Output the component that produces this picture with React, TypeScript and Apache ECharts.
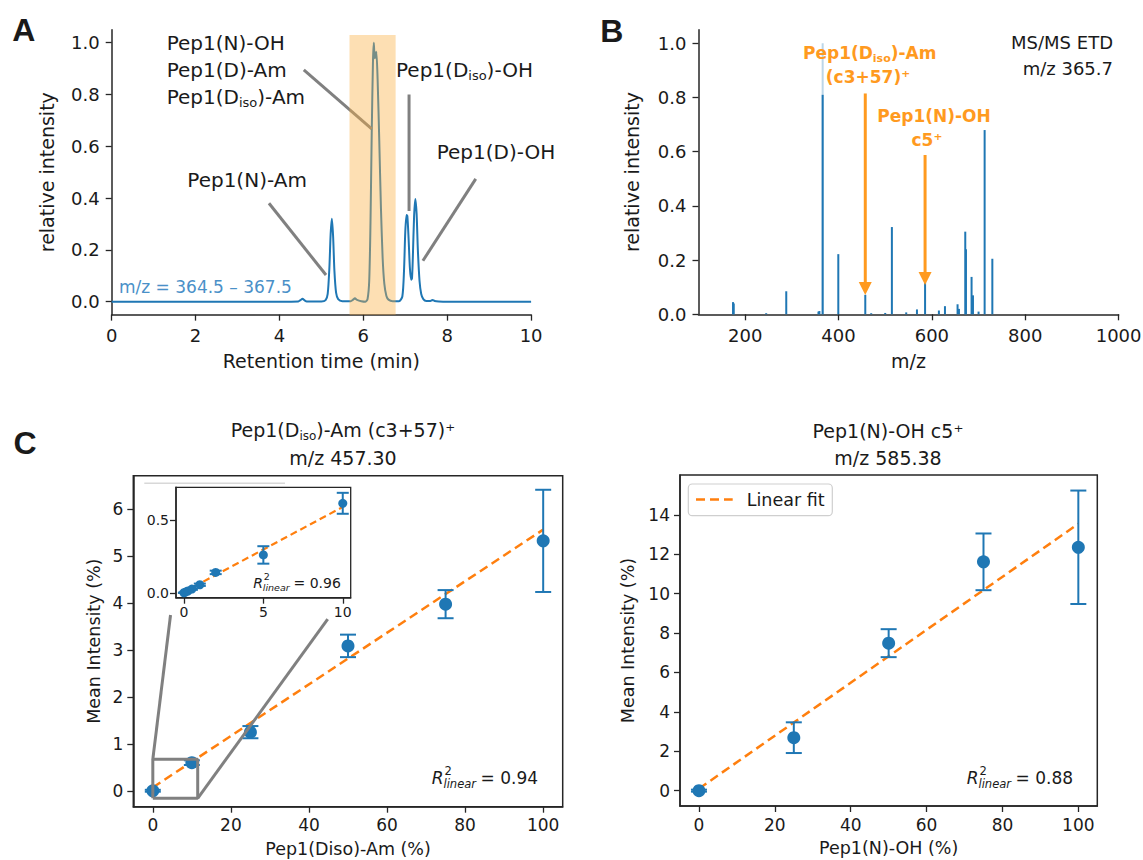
import React, { useEffect, useRef } from "react";
import * as echarts from "echarts";

// ---------------- Panel A : chromatogram ----------------
const chromTime = [0, 1, 2, 3, 4, 4.45, 4.5, 4.55, 4.6, 4.65, 5.0, 5.1, 5.15, 5.19, 5.22, 5.25, 5.28, 5.31, 5.35, 5.4, 5.5, 5.7, 5.75, 5.8, 5.85, 5.95, 6.05, 6.1, 6.14, 6.17, 6.2, 6.23, 6.25, 6.27, 6.29, 6.31, 6.34, 6.38, 6.42, 6.46, 6.5, 6.55, 6.6, 6.7, 6.85, 6.93, 6.97, 7.0, 7.03, 7.05, 7.08, 7.11, 7.14, 7.16, 7.18, 7.21, 7.24, 7.27, 7.3, 7.34, 7.38, 7.43, 7.5, 7.6, 7.65, 7.7, 7.8, 8, 9, 10];
const chromIntensity = [0, 0, 0, 0, 0, 0.001, 0.006, 0.011, 0.005, 0.001, 0.001, 0.006, 0.03, 0.13, 0.26, 0.32, 0.25, 0.12, 0.035, 0.01, 0.002, 0.002, 0.007, 0.013, 0.007, 0.002, 0, 0.01, 0.08, 0.3, 0.65, 0.93, 1.0, 0.94, 0.95, 0.965, 0.86, 0.62, 0.36, 0.17, 0.07, 0.022, 0.008, 0.002, 0.002, 0.02, 0.12, 0.27, 0.335, 0.33, 0.24, 0.13, 0.085, 0.09, 0.17, 0.33, 0.397, 0.34, 0.2, 0.08, 0.03, 0.01, 0.003, 0.003, 0.007, 0.003, 0.001, 0, 0, 0];
const bandStart = [5.67];
const bandEnd = [6.77];
const bandTop = [1.03];
const aXTicks = [0, 2, 4, 6, 8, 10];
const aYTicks = [0, 0.2, 0.4, 0.6, 0.8, 1.0];
// callout segments (data coords of panel A)
const calloutX1 = [4.58, 7.09, 3.75, 8.68];
const calloutY1 = [0.895, 0.80, 0.38, 0.474];
const calloutX2 = [6.2, 7.09, 5.11, 7.42];
const calloutY2 = [0.667, 0.35, 0.103, 0.158];

// ---------------- Panel B : MS/MS spectrum ----------------
const spectrumMz = [174, 175.5, 245, 288, 357, 359, 366, 399.5, 457.3, 470, 500, 514.3, 545, 568, 585.4, 615, 628, 655, 658, 671.5, 673, 685, 688, 700, 713, 729.5];
const spectrumIntensity = [0.045, 0.04, 0.004, 0.085, 0.01, 0.012, 0.81, 0.222, 0.072, 0.004, 0.005, 0.322, 0.007, 0.018, 0.12, 0.014, 0.03, 0.037, 0.02, 0.305, 0.24, 0.138, 0.07, 0.01, 0.68, 0.205];
const precursorMz = [366];
const precursorIntensity = [1.0];
const arrowMz = [457.3, 585.4];
const arrowFrom = [0.815, 0.588];
const arrowTo = [0.071, 0.108];
const bXTicks = [200, 400, 600, 800, 1000];
const bYTicks = [0, 0.2, 0.4, 0.6, 0.8, 1.0];

// ---------------- Panel C left ----------------
const leftConc = [0, 10, 25, 50, 75, 100];
const leftMean = [0, 0.6, 1.25, 3.09, 3.98, 5.33];
const leftErr = [0.02, 0.05, 0.13, 0.24, 0.3, 1.09];
const leftFitX = [0, 100];
const leftFitY = [0.07, 5.57];
const leftXTicks = [0, 20, 40, 60, 80, 100];
const leftYTicks = [0, 1, 2, 3, 4, 5, 6];
const insetConc = [0, 0.1, 0.25, 0.5, 1, 2, 5, 10];
const insetMean = [0, 0.005, 0.012, 0.025, 0.055, 0.14, 0.26, 0.615];
const insetErr = [0, 0.002, 0.003, 0.005, 0.008, 0.012, 0.06, 0.072];
const insetFitX = [0, 10];
const insetFitY = [0.005, 0.59];
const insetXTicks = [0, 5, 10];
const insetYTicks = [0, 0.5];
const zoomBoxX = [0, 11.5];
const zoomBoxY = [-0.16, 0.67];
const connectorFromX = [0, 11.5];
const connectorFromY = [0.67, -0.16];
const connectorToX = [4.54, 44.8];
const connectorToY = [3.75, 3.66];

// ---------------- Panel C right ----------------
const rightConc = [0, 25, 50, 75, 100];
const rightMean = [0, 2.69, 7.49, 11.62, 12.36];
const rightErr = [0.05, 0.78, 0.71, 1.44, 2.88];
const rightFitX = [0, 100];
const rightFitY = [0.1, 13.55];
const rightXTicks = [0, 20, 40, 60, 80, 100];
const rightYTicks = [0, 2, 4, 6, 8, 10, 12, 14];

const BLUE = "#1f77b4";
const FIT = "#ff7f0e";
const ORANGE = "#ff9a1f";
const GRAY = "#808080";
const AX = "#262626";
const TXT = "#1a1a1a";
const FONT = "DejaVu Sans";

function zip(a: number[], b: number[]) {
  return a.map((v, i) => [v, b[i]]);
}
function zip3(a: number[], b: number[], c: number[]) {
  return a.map((v, i) => [v, b[i], c[i]]);
}

function axis(
  gridIndex: number,
  min: number,
  max: number,
  ticks: number[],
  fmt: (v: number) => string,
  fs: number,
  margin: number,
  name: string,
  nameGap: number,
  nameFs: number
) {
  return {
    type: "value",
    gridIndex,
    min,
    max,
    name,
    nameLocation: "middle",
    nameGap,
    nameTextStyle: { fontSize: nameFs, fontFamily: FONT, color: TXT },
    axisLine: { show: true, onZero: false, lineStyle: { color: AX, width: 1.5 } },
    axisTick: { show: true, inside: false, length: 6, customValues: ticks, lineStyle: { color: AX, width: 1.3 } },
    axisLabel: { show: true, customValues: ticks, formatter: fmt, fontSize: fs, fontFamily: FONT, color: TXT, margin },
    splitLine: { show: false },
  };
}

const f0 = (v: number) => String(Math.round(v));
const f1 = (v: number) => v.toFixed(1);

function errorBarRender(cap: number) {
  return (params: any, api: any) => {
    const x = api.value(0);
    const y = api.value(1);
    const e = api.value(2);
    const lo = api.coord([x, y - e]);
    const hi = api.coord([x, y + e]);
    const st = { stroke: BLUE, lineWidth: 2 };
    return {
      type: "group",
      children: [
        { type: "line", shape: { x1: lo[0], y1: lo[1], x2: hi[0], y2: hi[1] }, style: st },
        { type: "line", shape: { x1: lo[0] - cap, y1: lo[1], x2: lo[0] + cap, y2: lo[1] }, style: st },
        { type: "line", shape: { x1: hi[0] - cap, y1: hi[1], x2: hi[0] + cap, y2: hi[1] }, style: st },
      ],
    };
  };
}

function txt(text: string, x: number, y: number, fs: number, opts: any = {}) {
  const align = opts.align || "left";
  return {
    type: "text",
    z: 20,
    style: {
      text,
      x,
      y,
      fontSize: fs,
      fontFamily: opts.family || FONT,
      fontWeight: opts.weight || "normal",
      fontStyle: opts.style || "normal",
      fill: opts.color || TXT,
      align,
      verticalAlign: "middle",
      textAlign: align,
      textVerticalAlign: "middle",
      rich: opts.rich,
    },
  };
}

function richSub(fs: number, color: string, weight: string) {
  return {
    n: { fontSize: fs, fontFamily: FONT, fontWeight: weight, fill: color, color, lineHeight: fs + 4 },
    s: { fontSize: Math.round(fs * 0.65), fontFamily: FONT, fontWeight: weight, fill: color, color, lineHeight: Math.round(fs * 0.55), verticalAlign: "bottom" },
  };
}

function rSquared(x: number, y: number, val: string, fs: number) {
  const rW = 0.75 * fs;
  const small = 0.68 * fs;
  return {
    type: "group",
    z: 20,
    children: [
      txt("R", x, y, fs, { style: "italic" }),
      txt("2", x + rW, y - 0.42 * fs, small),
      txt("linear", x + rW - 1, y + 0.32 * fs, small, { style: "italic" }),
      txt("= " + val, x + rW + 2.83 * small + 0.2 * fs, y, fs),
    ],
  };
}

function buildOption() {
  const grid = [
    { left: 111.7, top: 29.75, width: 419.4, height: 284.9, outerBoundsMode: "none" },
    { left: 698.5, top: 29.8, width: 420.1, height: 284.5, outerBoundsMode: "none" },
    { left: 133.3, top: 475.7, width: 429.4, height: 331, show: true, borderColor: AX, borderWidth: 1.5, outerBoundsMode: "none" },
    { left: 176, top: 487.3, width: 174.7, height: 110.4, show: true, borderColor: AX, borderWidth: 1.3, backgroundColor: "#fff", z: 5, outerBoundsMode: "none" },
    { left: 680, top: 475, width: 417.3, height: 331, show: true, borderColor: AX, borderWidth: 1.5, outerBoundsMode: "none" },
  ];

  const xAxis = [
    axis(0, 0, 10, aXTicks, f0, 18, 12, "Retention time (min)", 37, 19),
    axis(1, 100, 1000, bXTicks, f0, 18, 12, "m/z", 37, 19),
    axis(2, -5, 105, leftXTicks, f0, 17, 10, "Pep1(Diso)-Am (%)", 33, 17.5),
    { ...axis(3, -0.5, 10.5, insetXTicks, f0, 14, 7, "", 0, 14), z: 6 },
    axis(4, -5, 105, rightXTicks, f0, 17, 10, "Pep1(N)-OH (%)", 33, 17.5),
  ];
  const yAxis = [
    axis(0, -0.05, 1.05, aYTicks, f1, 18, 12, "relative intensity", 55, 19),
    axis(1, 0, 1.05, bYTicks, f1, 18, 12, "relative intensity", 57, 19),
    axis(2, -0.34, 6.72, leftYTicks, f0, 17, 10, "Mean Intensity (%)", 30, 17.5),
    { ...axis(3, -0.034, 0.725, insetYTicks, f1, 14, 7, "", 0, 14), z: 6 },
    axis(4, -0.78, 16.03, rightYTicks, f0, 17, 10, "Mean Intensity (%)", 43, 17.5),
  ];

  const series: any[] = [];

  // ---- A ----
  series.push({
    type: "line",
    xAxisIndex: 0,
    yAxisIndex: 0,
    data: zip(chromTime, chromIntensity),
    showSymbol: false,
    symbol: "none",
    smooth: 0.25,
    lineStyle: { color: BLUE, width: 2 },
    z: 2,
    silent: true,
  });
  calloutX1.forEach((x1, i) => {
    series.push({
      type: "line",
      xAxisIndex: 0,
      yAxisIndex: 0,
      data: [
        [x1, calloutY1[i]],
        [calloutX2[i], calloutY2[i]],
      ],
      symbol: "none",
      lineStyle: { color: GRAY, width: 3 },
      z: 2,
      silent: true,
    });
  });
  series.push({
    type: "custom",
    xAxisIndex: 0,
    yAxisIndex: 0,
    z: 3,
    silent: true,
    data: zip3(bandStart, bandEnd, bandTop),
    renderItem: (params: any, api: any) => {
      const p0 = api.coord([api.value(0), api.value(2)]);
      const p1 = api.coord([api.value(1), -0.05]);
      return {
        type: "rect",
        shape: { x: p0[0], y: p0[1], width: p1[0] - p0[0], height: p1[1] - p0[1] },
        style: { fill: "rgba(251,176,64,0.4)" },
      };
    },
  });

  // ---- B ----
  const stickRender = (color: string) => (params: any, api: any) => {
    const a = api.coord([api.value(0), 0]);
    const b = api.coord([api.value(0), api.value(1)]);
    return { type: "line", shape: { x1: a[0], y1: a[1], x2: b[0], y2: b[1] }, style: { stroke: color, lineWidth: 2 } };
  };
  series.push({
    type: "custom",
    xAxisIndex: 1,
    yAxisIndex: 1,
    z: 2,
    silent: true,
    data: zip(precursorMz, precursorIntensity),
    renderItem: stickRender("rgba(31,119,180,0.3)"),
  });
  series.push({
    type: "custom",
    xAxisIndex: 1,
    yAxisIndex: 1,
    z: 3,
    silent: true,
    data: zip(spectrumMz, spectrumIntensity),
    renderItem: stickRender(BLUE),
  });
  series.push({
    type: "custom",
    xAxisIndex: 1,
    yAxisIndex: 1,
    z: 4,
    silent: true,
    data: zip3(arrowMz, arrowFrom, arrowTo),
    renderItem: (params: any, api: any) => {
      const t = api.coord([api.value(0), api.value(1)]);
      const b = api.coord([api.value(0), api.value(2)]);
      const hl = 13;
      const hw = 6.5;
      return {
        type: "group",
        children: [
          { type: "line", shape: { x1: t[0], y1: t[1], x2: b[0], y2: b[1] - hl + 1 }, style: { stroke: ORANGE, lineWidth: 3 } },
          {
            type: "polygon",
            shape: { points: [[b[0] - hw, b[1] - hl], [b[0] + hw, b[1] - hl], [b[0], b[1]]] },
            style: { fill: ORANGE },
          },
        ],
      };
    },
  });

  // ---- C left ----
  series.push({
    type: "line",
    xAxisIndex: 2,
    yAxisIndex: 2,
    data: zip(leftFitX, leftFitY),
    symbol: "none",
    lineStyle: { color: FIT, width: 2.5, type: [9, 5] },
    z: 2,
    silent: true,
  });
  series.push({
    type: "custom",
    xAxisIndex: 2,
    yAxisIndex: 2,
    z: 3,
    silent: true,
    data: zip3(leftConc, leftMean, leftErr),
    renderItem: errorBarRender(8),
  });
  series.push({
    type: "scatter",
    xAxisIndex: 2,
    yAxisIndex: 2,
    z: 4,
    silent: true,
    symbolSize: 13,
    itemStyle: { color: BLUE, opacity: 1 },
    data: zip(leftConc, leftMean),
  });
  series.push({
    type: "line",
    xAxisIndex: 2,
    yAxisIndex: 2,
    z: 5,
    silent: true,
    symbol: "none",
    lineStyle: { color: GRAY, width: 3 },
    data: [
      [zoomBoxX[0], zoomBoxY[0]],
      [zoomBoxX[1], zoomBoxY[0]],
      [zoomBoxX[1], zoomBoxY[1]],
      [zoomBoxX[0], zoomBoxY[1]],
      [zoomBoxX[0], zoomBoxY[0]],
    ],
  });
  connectorFromX.forEach((x, i) => {
    series.push({
      type: "line",
      xAxisIndex: 2,
      yAxisIndex: 2,
      z: 5,
      silent: true,
      symbol: "none",
      lineStyle: { color: GRAY, width: 3 },
      data: [
        [x, connectorFromY[i]],
        [connectorToX[i], connectorToY[i]],
      ],
    });
  });

  // ---- inset ----
  series.push({
    type: "line",
    xAxisIndex: 3,
    yAxisIndex: 3,
    data: zip(insetFitX, insetFitY),
    symbol: "none",
    lineStyle: { color: FIT, width: 2.2, type: [7, 4] },
    z: 6,
    silent: true,
  });
  series.push({
    type: "custom",
    xAxisIndex: 3,
    yAxisIndex: 3,
    z: 7,
    silent: true,
    data: zip3(insetConc, insetMean, insetErr),
    renderItem: errorBarRender(6),
  });
  series.push({
    type: "scatter",
    xAxisIndex: 3,
    yAxisIndex: 3,
    z: 8,
    silent: true,
    symbolSize: 9,
    itemStyle: { color: BLUE, opacity: 1 },
    data: zip(insetConc, insetMean),
  });

  // ---- C right ----
  series.push({
    type: "line",
    xAxisIndex: 4,
    yAxisIndex: 4,
    data: zip(rightFitX, rightFitY),
    symbol: "none",
    lineStyle: { color: FIT, width: 2.5, type: [9, 5] },
    z: 2,
    silent: true,
  });
  series.push({
    type: "custom",
    xAxisIndex: 4,
    yAxisIndex: 4,
    z: 3,
    silent: true,
    data: zip3(rightConc, rightMean, rightErr),
    renderItem: errorBarRender(8),
  });
  series.push({
    type: "scatter",
    xAxisIndex: 4,
    yAxisIndex: 4,
    z: 4,
    silent: true,
    symbolSize: 13,
    itemStyle: { color: BLUE, opacity: 1 },
    data: zip(rightConc, rightMean),
  });

  const subA = richSub(20, TXT, "normal");
  const subB = richSub(17, ORANGE, "bold");
  const subC = richSub(19, TXT, "normal");

  const elements: any[] = [
    // panel letters
    txt("A", 23.8, 30, 32, { weight: "bold", family: "Liberation Sans", align: "center" }),
    txt("B", 611.7, 31, 32, { weight: "bold", family: "Liberation Sans", align: "center" }),
    txt("C", 25, 443, 32, { weight: "bold", family: "Liberation Sans", align: "center" }),
    // panel A labels
    txt("Pep1(N)-OH", 166.7, 43.3, 20),
    txt("Pep1(D)-Am", 166.7, 70, 20),
    txt("{n|Pep1(D}{s|iso}{n|)-Am}", 166.7, 96.7, 20, { rich: subA }),
    txt("{n|Pep1(D}{s|iso}{n|)-OH}", 396, 70, 20, { rich: subA }),
    txt("Pep1(D)-OH", 436.7, 151.7, 20),
    txt("Pep1(N)-Am", 187.3, 180, 20),
    txt("m/z = 364.5 \u2013 367.5", 119, 287.3, 17, { color: "#4a90c8" }),
    // panel B labels
    txt("{n|Pep1(D}{s|iso}{n|)-Am}", 869.7, 53.3, 17, { rich: subB, align: "center", color: ORANGE, weight: "bold" }),
    txt("(c3+57)\u207A", 868, 77.3, 17, { align: "center", color: ORANGE, weight: "bold" }),
    txt("Pep1(N)-OH", 934, 116, 17, { align: "center", color: ORANGE, weight: "bold" }),
    txt("c5\u207A", 927, 140, 17, { align: "center", color: ORANGE, weight: "bold" }),
    txt("MS/MS ETD", 1113, 42.7, 18, { align: "right" }),
    txt("m/z 365.7", 1113, 68.3, 18, { align: "right" }),
    // panel C titles
    txt("{n|Pep1(D}{s|iso}{n|)-Am (c3+57)\u207A}", 343, 430, 19, { rich: subC, align: "center" }),
    txt("m/z 457.30", 343, 457.7, 19, { align: "center" }),
    txt("Pep1(N)-OH c5\u207A", 888, 431, 19, { align: "center" }),
    txt("m/z 585.38", 888, 457.7, 19, { align: "center" }),
    // R^2 labels
    rSquared(431.7, 778.3, "0.94", 17),
    rSquared(253.3, 582.7, "0.96", 14),
    rSquared(966.7, 778.3, "0.88", 17),
    // faint line above inset
    { type: "line", z: 4, shape: { x1: 144.3, y1: 483.3, x2: 285, y2: 483.3 }, style: { stroke: "#d8d8d8", lineWidth: 1.5 } },
    // legend
    { type: "rect", z: 19, shape: { x: 688.3, y: 484, width: 144, height: 31.7, r: 4 }, style: { fill: "#fff", stroke: "#cfcfcf", lineWidth: 1.2 } },
    { type: "line", z: 20, shape: { x1: 696, y1: 499.5, x2: 732.7, y2: 499.5 }, style: { stroke: FIT, lineWidth: 2.5, lineDash: [9, 5] } },
    txt("Linear fit", 746.7, 499.5, 17.5),
  ];

  return {
    animation: false,
    backgroundColor: "#ffffff",
    grid,
    xAxis,
    yAxis,
    series,
    graphic: { elements },
  };
}

export default function App() {
  const ref = useRef<HTMLDivElement>(null);
  useEffect(() => {
    if (!ref.current) return;
    const chart = echarts.init(ref.current, null, { renderer: "svg" });
    chart.setOption(buildOption() as any);
    return () => chart.dispose();
  }, []);
  return (
    <div
      ref={ref}
      style={{ position: "fixed", left: 0, top: 0, width: 1143, height: 860, background: "#fff" }}
    />
  );
}
